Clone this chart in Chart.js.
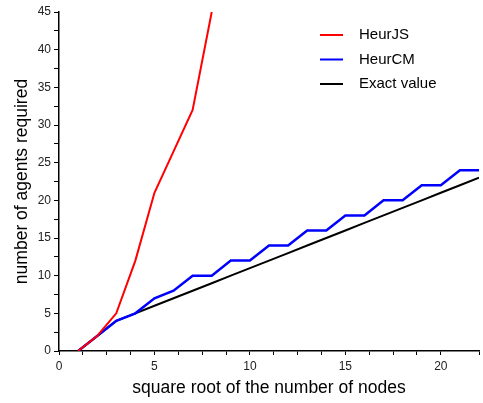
<!DOCTYPE html>
<html>
<head>
<meta charset="utf-8">
<script src="https://cdn.jsdelivr.net/npm/chart.js@4/dist/chart.umd.min.js"></script>
<style>
  html, body { margin: 0; padding: 0; background: #fff; }
  #wrap { width: 483px; height: 403px; }
</style>
</head>
<body>
<div id="wrap"><canvas id="chart"></canvas></div>
<script>
// square root of the number of nodes
var sizes = [1, 2, 3, 4, 5, 6, 7, 8, 9, 10, 11, 12, 13, 14, 15, 16, 17, 18, 19, 20, 21, 22];

var heurJS = [0, 2, 5, 12, 21, 26.5, 32, 45];
var heurCM = [0, 2, 4, 5, 7, 8, 10, 10, 12, 12, 14, 14, 16, 16, 18, 18, 20, 20, 22, 22, 24, 24];
var exact  = [0, 2, 4, 5, 6, 7, 8, 9, 10, 11, 12, 13, 14, 15, 16, 17, 18, 19, 20, 21, 22, 23];

var seriesNames = ['HeurJS', 'HeurCM', 'Exact value'];
var seriesColors = ['#ff0000', '#0000ff', '#000000'];

function toPoints(values) {
    return values.map(function(v, i) { return { x: sizes[i], y: v }; });
}

var font = "'Liberation Sans', Arial, Helvetica, sans-serif";

// legend drawn inside the plot, top right
var cornerLegend = {
    id: 'cornerLegend',
    afterDraw: function(chart) {
        var c = chart.ctx;
        c.save();
        c.font = '15px ' + font;
        c.textBaseline = 'middle';
        c.lineWidth = 2;
        chart.data.datasets.forEach(function(ds, i) {
            var y = 35 + i * 24.5;
            c.strokeStyle = ds.borderColor;
            c.beginPath();
            c.moveTo(320, y);
            c.lineTo(343, y);
            c.stroke();
            c.fillStyle = '#000';
            c.fillText(ds.label, 359, y);
        });
        c.restore();
    }
};

new Chart(document.getElementById('chart'), {
    type: 'line',
    data: {
        datasets: [
            { label: seriesNames[0], data: toPoints(heurJS), borderColor: seriesColors[0], borderWidth: 2 },
            { label: seriesNames[1], data: toPoints(heurCM), borderColor: seriesColors[1], borderWidth: 2.5 },
            { label: seriesNames[2], data: toPoints(exact), borderColor: seriesColors[2], borderWidth: 2 }
        ]
    },
    options: {
        responsive: true,
        maintainAspectRatio: false,
        animation: false,
        layout: { padding: { top: 12, right: 1 } },
        elements: {
            point: { radius: 0 },
            line: { tension: 0, borderCapStyle: 'butt' }
        },
        scales: {
            x: {
                type: 'linear',
                min: 0,
                max: 22,
                ticks: {
                    stepSize: 1.25,
                    autoSkip: false,
                    maxRotation: 0,
                    padding: 4,
                    color: '#222',
                    font: { family: font, size: 12 },
                    callback: function(v) { return v % 5 === 0 ? v : ''; }
                },
                grid: { drawOnChartArea: false, tickLength: 4, tickColor: '#000', tickWidth: 1 },
                border: { color: '#000', width: 1.5 },
                title: {
                    display: true,
                    text: 'square root of the number of nodes',
                    color: '#000',
                    font: { family: font, size: 17.5 },
                    padding: { top: 3, bottom: 4 }
                },
                afterFit: function(s) { s.height = 52; }
            },
            y: {
                min: 0,
                max: 45,
                ticks: {
                    stepSize: 2.5,
                    autoSkip: false,
                    padding: 3,
                    color: '#222',
                    font: { family: font, size: 12 },
                    callback: function(v) { return v % 5 === 0 ? v : ''; }
                },
                grid: { drawOnChartArea: false, tickLength: 5, tickColor: '#000', tickWidth: 1 },
                border: { color: '#000', width: 1.5 },
                title: {
                    display: true,
                    text: 'number of agents required',
                    color: '#000',
                    font: { family: font, size: 17.5 },
                    padding: { top: 12, bottom: 4 }
                },
                afterFit: function(s) { s.width = 59; }
            }
        },
        plugins: {
            legend: { display: false },
            tooltip: { enabled: false }
        }
    },
    plugins: [cornerLegend]
});
</script>
</body>
</html>
